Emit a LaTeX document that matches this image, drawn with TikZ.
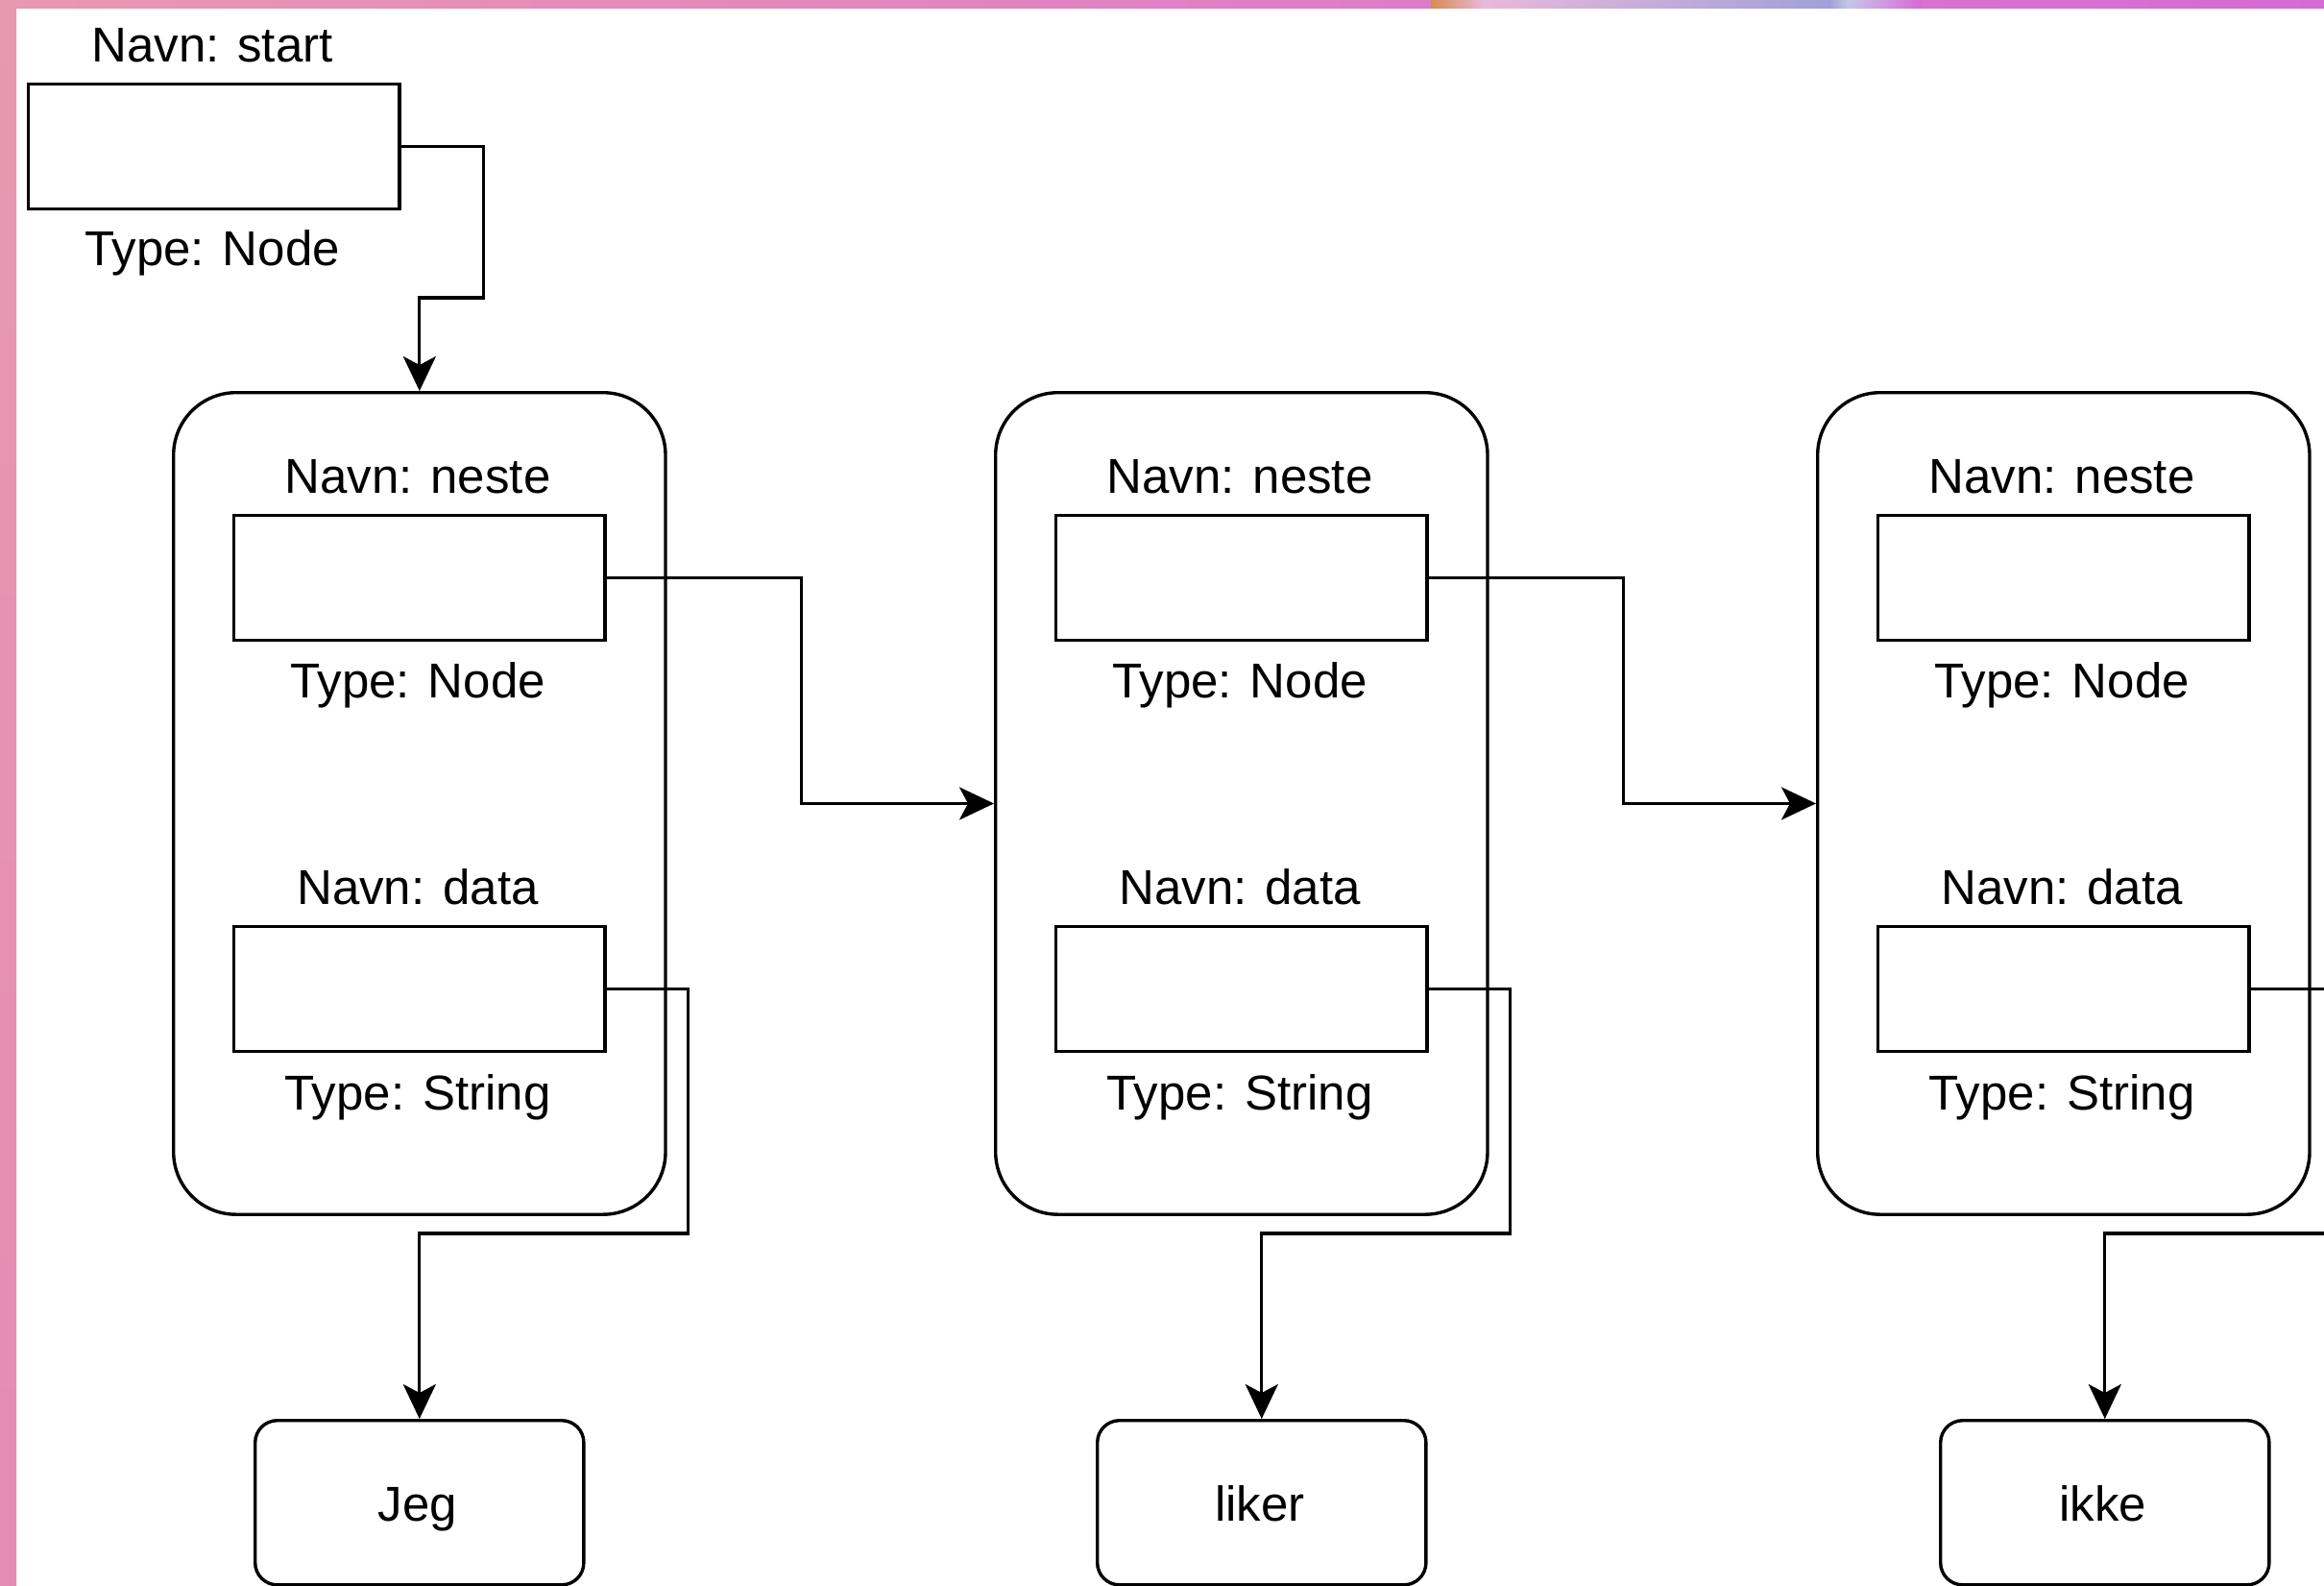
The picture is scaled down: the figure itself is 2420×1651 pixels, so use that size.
\documentclass[tikz,border=0pt]{standalone}
\usepackage{fontspec}
\setmainfont{Liberation Sans}
\usetikzlibrary{arrows.meta,calc}

\definecolor{stripleft}{RGB}{232,152,176}
\definecolor{stripright}{RGB}{214,106,212}
\definecolor{striplys}{RGB}{232,184,218}
\definecolor{stripgul}{RGB}{214,140,80}
\definecolor{stripblaa}{RGB}{160,160,216}
\definecolor{kantrosa}{RGB}{228,140,180}

\tikzset{
  felt/.style={draw, line width=0.034cm, minimum width=3.86cm, minimum height=1.30cm,
    inner sep=0pt, anchor=north west},
  objekt/.style={draw, line width=0.034cm, rounded corners=0.65cm, minimum width=5.12cm,
    minimum height=8.55cm, inner sep=0pt, anchor=north west},
  verdi/.style={draw, line width=0.034cm, rounded corners=0.23cm, minimum width=3.42cm,
    minimum height=1.71cm, inner sep=0pt, anchor=north west},
  tekst/.style={anchor=base, inner sep=0pt},
  peker/.style={line width=0.032cm, -{Stealth[length=0.36cm,width=0.34cm,inset=0.09cm]}}
}

\begin{document}
\begin{tikzpicture}[x=0.01cm, y=-0.01cm, font=\fontsize{14.5pt}{17pt}\selectfont]
                        \useasboundingbox (0,0) rectangle (2420,1651);
                        \clip (0,0) rectangle (2420,1651);

                        % Screen frame
                        \fill[white] (0,0) rectangle (2420,1651);
                        \shade[left color=stripleft, right color=stripright] (0,0) rectangle (2420,8);
                        \shade[left color=stripgul, right color=striplys] (1490,0) rectangle (1545,8);
                        \shade[left color=striplys, right color=stripblaa] (1545,0) rectangle (1905,8);
                        \shade[left color=stripblaa, right color=white!40!stripblaa] (1905,0) rectangle (1925,8);
                        \shade[left color=white!40!stripblaa, right color=stripright] (1925,0) rectangle (2000,8);
                        \shade[top color=stripleft, bottom color=kantrosa] (0,0) rectangle (17,1651);

                        % Variable start
                        \node[felt] (start) at (28,86) {};
                        \node[tekst] (startnavn) at (221,64) {Navn: start};
                        \node[tekst] (starttype) at (221,276) {Type: Node};

                        % Object 1
                        \node[objekt] (c1) at (179,407) {};
                        \node[tekst] (n1navn) at (435,513) {Navn: neste};
                        \node[felt] (n1) at (242,535) {};
                        \node[tekst] (n1type) at (435,726) {Type: Node};
                        \node[tekst] (d1navn) at (435,941) {Navn: data};
                        \node[felt] (d1) at (242,963) {};
                        \node[tekst] (d1type) at (435,1155) {Type: String};

                        % Object 2
                        \node[objekt] (c2) at (1035,407) {};
                        \node[tekst] (n2navn) at (1291,513) {Navn: neste};
                        \node[felt] (n2) at (1098,535) {};
                        \node[tekst] (n2type) at (1291,726) {Type: Node};
                        \node[tekst] (d2navn) at (1291,941) {Navn: data};
                        \node[felt] (d2) at (1098,963) {};
                        \node[tekst] (d2type) at (1291,1155) {Type: String};

                        % Object 3
                        \node[objekt] (c3) at (1891,407) {};
                        \node[tekst] (n3navn) at (2147,513) {Navn: neste};
                        \node[felt] (n3) at (1954,535) {};
                        \node[tekst] (n3type) at (2147,726) {Type: Node};
                        \node[tekst] (d3navn) at (2147,941) {Navn: data};
                        \node[felt] (d3) at (1954,963) {};
                        \node[tekst] (d3type) at (2147,1155) {Type: String};

                        % Values
                        \node[verdi] (v1) at (264,1477) {};
                        \node[tekst] (v1tekst) at (435,1583) {Jeg};
                        \node[verdi] (v2) at (1141,1477) {};
                        \node[tekst] (v2tekst) at (1312,1583) {liker};
                        \node[verdi] (v3) at (2019,1477) {};
                        \node[tekst] (v3tekst) at (2190,1583) {ikke};

                        % Drawing arrows neste
                        \draw[peker] (start.east) -- ++(86,0) |- ($(c1.north)+(0,-97)$) -- (c1.north);
                        \draw[peker] (n1.east) -- ++(203,0) |- (c2.west);
                        \draw[peker] (n2.east) -- ++(203,0) |- (c3.west);

                        % Drawing arrows data
                        \draw[peker] (d1.east) -- ++(85,0) |- ($(v1.north)+(0,-193)$) -- (v1.north);
                        \draw[peker] (d2.east) -- ++(85,0) |- ($(v2.north)+(0,-193)$) -- (v2.north);
                        \draw[peker] (d3.east) -- ++(85,0) |- ($(v3.north)+(0,-193)$) -- (v3.north);
\end{tikzpicture}
\end{document}
